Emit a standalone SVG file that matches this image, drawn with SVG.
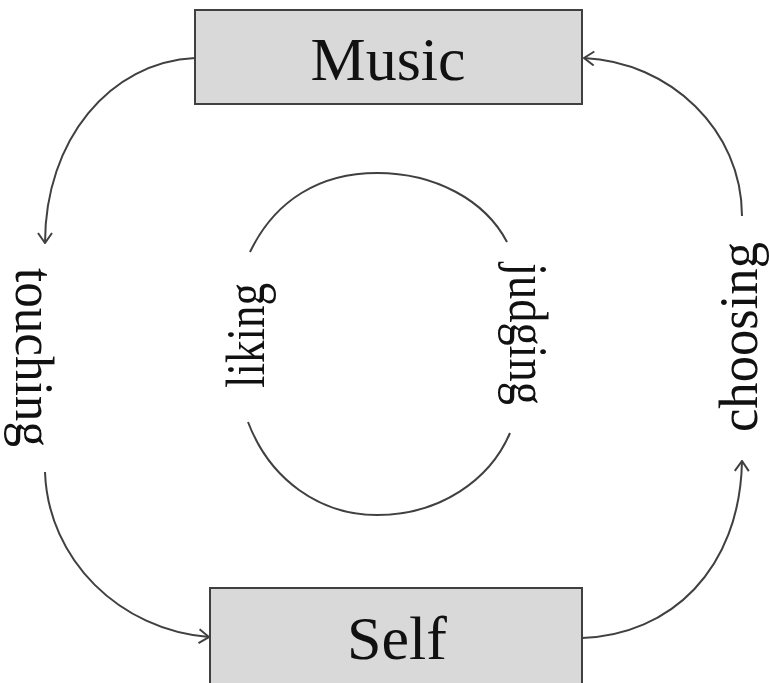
<svg xmlns="http://www.w3.org/2000/svg" width="769" height="683" viewBox="0 0 769 683">
<style>
.box{fill:#d9d9d9;stroke:#404040;stroke-width:2}
.lbl{font-family:"Liberation Serif","Times New Roman",serif;fill:#111}
.big{font-size:62px}
.side{font-size:54px}
.conn{fill:none;stroke:#404040;stroke-width:2}
</style>
<defs>
<marker id="ah" viewBox="0 0 12 16" refX="11" refY="8" markerWidth="12" markerHeight="16" markerUnits="userSpaceOnUse" orient="auto">
<path d="M1,1 L11,8 L1,15" fill="none" stroke="#404040" stroke-width="2"/>
</marker>
</defs>
<rect width="769" height="683" fill="#fff"/>
<g id="connectors">
<path class="conn" d="M195,58 C110,62 45,140 45,243" marker-end="url(#ah)"/>
<path class="conn" d="M45,472 C48,560 120,630 209,637" marker-end="url(#ah)"/>
<path class="conn" d="M582,638 C670,635 740,570 742,461" marker-end="url(#ah)"/>
<path class="conn" d="M742,216 C742,130 670,62 584,58" marker-end="url(#ah)"/>
<path class="conn" d="M250,252 C275,200 320,173 377,173 C435,173 485,200 507,242"/>
<path class="conn" d="M248,422 C270,480 320,515 377,515 C440,515 490,480 510,433"/>
</g>
<g id="music">
<rect class="box" x="195" y="10" width="387" height="94"/>
<text class="lbl big" x="388" y="80" text-anchor="middle">Music</text>
</g>
<g id="self">
<rect class="box" x="210" y="588" width="372" height="100"/>
<text class="lbl big" x="397" y="659" text-anchor="middle">Self</text>
</g>
<g id="touching">
<text class="lbl side" transform="translate(16,268) rotate(90)" textLength="179" lengthAdjust="spacingAndGlyphs">touching</text>
</g>
<g id="choosing">
<text class="lbl side" font-size="52" transform="translate(757,432) rotate(-90)" textLength="190" lengthAdjust="spacingAndGlyphs">choosing</text>
</g>
<g id="liking">
<text class="lbl side" transform="translate(264,388) rotate(-90)" textLength="105" lengthAdjust="spacingAndGlyphs">liking</text>
</g>
<g id="judging">
<text class="lbl side" transform="translate(510,263) rotate(90)" textLength="142" lengthAdjust="spacingAndGlyphs">judging</text>
</g>
</svg>
